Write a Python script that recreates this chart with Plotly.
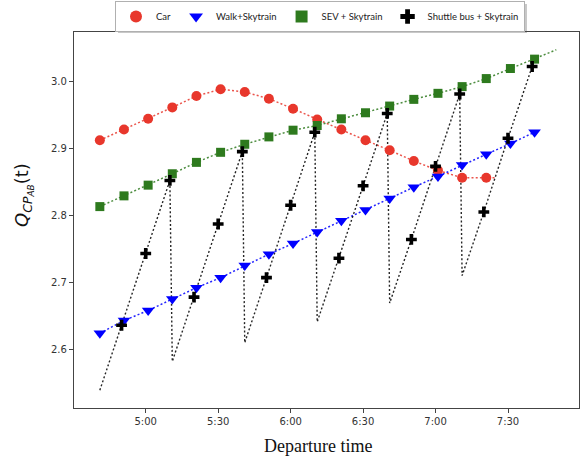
import plotly.graph_objects as go

# ---------------- data ----------------
mode_times = ["4:41", "4:51", "5:01", "5:11", "5:21", "5:31", "5:41", "5:51", "6:01", "6:11",
              "6:21", "6:31", "6:41", "6:51", "7:01", "7:11", "7:21", "7:31", "7:41"]

car_times = ["4:41", "4:51", "5:01", "5:11", "5:21", "5:31", "5:41", "5:51", "6:01", "6:11",
             "6:21", "6:31", "6:41", "6:51", "7:01", "7:11", "7:21"]
car_values = [2.912, 2.928, 2.944, 2.961, 2.978, 2.988, 2.984, 2.974, 2.959, 2.943,
              2.928, 2.912, 2.897, 2.881, 2.867, 2.856, 2.856]
car_line_end = ("7:25", 2.856)

walk_values = [2.624, 2.643, 2.658, 2.675, 2.692, 2.707, 2.725, 2.742, 2.758, 2.775,
               2.792, 2.808, 2.825, 2.842, 2.858, 2.875, 2.891, 2.907, 2.924]

sev_values = [2.813, 2.829, 2.845, 2.862, 2.879, 2.894, 2.906, 2.917, 2.927, 2.934,
              2.944, 2.953, 2.963, 2.973, 2.982, 2.992, 3.004, 3.019, 3.033]
sev_line_end = ("7:50", 3.047)

shuttle_times = ["4:41", "4:50", "5:00", "5:10", "5:11", "5:20", "5:30", "5:40",
                 "5:41", "5:50", "6:00", "6:10", "6:11", "6:20", "6:30", "6:40",
                 "6:41", "6:50", "7:00", "7:10", "7:11", "7:20", "7:30", "7:40"]
shuttle_values = [2.539, 2.636, 2.743, 2.852, 2.582, 2.678, 2.787, 2.895,
                  2.610, 2.707, 2.815, 2.924, 2.641, 2.736, 2.844, 2.952,
                  2.669, 2.764, 2.873, 2.981, 2.710, 2.805, 2.915, 3.022]
shuttle_is_low = [True, False, False, False, True, False, False, False,
                  True, False, False, False, True, False, False, False,
                  True, False, False, False, True, False, False, False]

tick_labels = ["5:00", "5:30", "6:00", "6:30", "7:00", "7:30"]
x_label = "Departure time"
legend_names = ["Car", "Walk+Skytrain", "SEV + Skytrain", "Shuttle bus + Skytrain"]


def to_min(s):
    h, m = s.split(":")
    return int(h) * 60 + int(m)


RED = "#e8372c"
BLUE = "#0000ff"
GREEN = "#2e7a1e"
BLACK = "#000000"
DASH = "2px,2.2px"

fig = go.Figure()

# ---- lines (no legend) ----
fig.add_trace(go.Scatter(
    x=[to_min(t) for t in car_times] + [to_min(car_line_end[0])],
    y=car_values + [car_line_end[1]],
    mode="lines", line=dict(color=RED, width=1.5, dash=DASH), opacity=0.85,
    showlegend=False, hoverinfo="skip"))
fig.add_trace(go.Scatter(
    x=[to_min(t) for t in mode_times], y=walk_values,
    mode="lines", line=dict(color=BLUE, width=1.5, dash=DASH), opacity=0.85,
    showlegend=False, hoverinfo="skip"))
fig.add_trace(go.Scatter(
    x=[to_min(t) for t in mode_times] + [to_min(sev_line_end[0])],
    y=sev_values + [sev_line_end[1]],
    mode="lines", line=dict(color=GREEN, width=1.5, dash=DASH), opacity=0.85,
    showlegend=False, hoverinfo="skip"))
fig.add_trace(go.Scatter(
    x=[to_min(t) for t in shuttle_times], y=shuttle_values,
    mode="lines", line=dict(color=BLACK, width=1.4, dash=DASH), opacity=0.85,
    showlegend=False, hoverinfo="skip"))

# ---- markers ----
fig.add_trace(go.Scatter(
    x=[to_min(t) for t in car_times], y=car_values, mode="markers", name=legend_names[0],
    marker=dict(symbol="circle", size=10, color=RED, line=dict(width=0))))
fig.add_trace(go.Scatter(
    x=[to_min(t) for t in mode_times], y=walk_values, mode="markers", name=legend_names[1],
    marker=dict(symbol="triangle-down", size=11, color=BLUE, line=dict(width=0))))
fig.add_trace(go.Scatter(
    x=[to_min(t) for t in mode_times], y=sev_values, mode="markers", name=legend_names[2],
    marker=dict(symbol="square", size=9, color=GREEN, line=dict(width=0))))
sx = [to_min(t) for t, low in zip(shuttle_times, shuttle_is_low) if not low]
sy = [v for v, low in zip(shuttle_values, shuttle_is_low) if not low]
fig.add_trace(go.Scatter(
    x=sx, y=sy, mode="markers", name=legend_names[3],
    marker=dict(symbol="cross", size=9, color=BLACK, line=dict(width=0))))

L, R, T, B = 74, 8, 32, 51
W, H = 587, 459
pw, ph = W - L - R, H - T - B


def px(xp):
    return (xp - L) / pw


def py(yp):
    return (H - B - yp) / ph


axis_common = dict(showline=True, mirror=True, linecolor="#444", linewidth=1.2,
                   ticks="outside", ticklen=4, tickwidth=1, tickcolor="#444",
                   showgrid=False, zeroline=False,
                   tickfont=dict(family="DejaVu Sans", size=10, color="#333"))

fig.update_layout(
    width=W, height=H,
    margin=dict(l=L, r=R, t=T, b=B, autoexpand=False),
    paper_bgcolor="white", plot_bgcolor="white",
    xaxis=dict(range=[270.3, 479.4], tickvals=[to_min(t) for t in tick_labels],
               ticktext=tick_labels, **axis_common),
    yaxis=dict(range=[2.5125, 3.0735], tickvals=[2.6, 2.7, 2.8, 2.9, 3.0],
               ticktext=["2.6", "2.7", "2.8", "2.9", "3.0"], **axis_common),
    legend=dict(orientation="h", xref="container", yref="container",
                x=115 / W, y=1 - 1 / H, xanchor="left", yanchor="top",
                bgcolor="white", bordercolor="#b0b0b0", borderwidth=1,
                font=dict(family="Lato", size=9.5, color="#222"),
                itemsizing="constant"),
    showlegend=True,
    shapes=[dict(type="rect", xref="paper", yref="paper",
                 x0=px(118), x1=px(527), y0=py(4), y1=py(33),
                 fillcolor="#c8c8c8", line=dict(width=0), layer="below")],
    annotations=[
        dict(text=x_label, xref="paper", yref="paper", x=px(318), y=py(446),
             xanchor="center", yanchor="middle", showarrow=False,
             font=dict(family="Liberation Serif", size=18, color="#111")),
        dict(text="<i>Q</i><sub><i>CP</i><sub><i>AB</i></sub></sub>(t)",
             xref="paper", yref="paper", x=px(24), y=py(195), textangle=-90,
             xanchor="center", yanchor="middle", showarrow=False,
             font=dict(family="DejaVu Sans", size=18, color="#111")),
    ],
)

fig.write_html("out.html")
